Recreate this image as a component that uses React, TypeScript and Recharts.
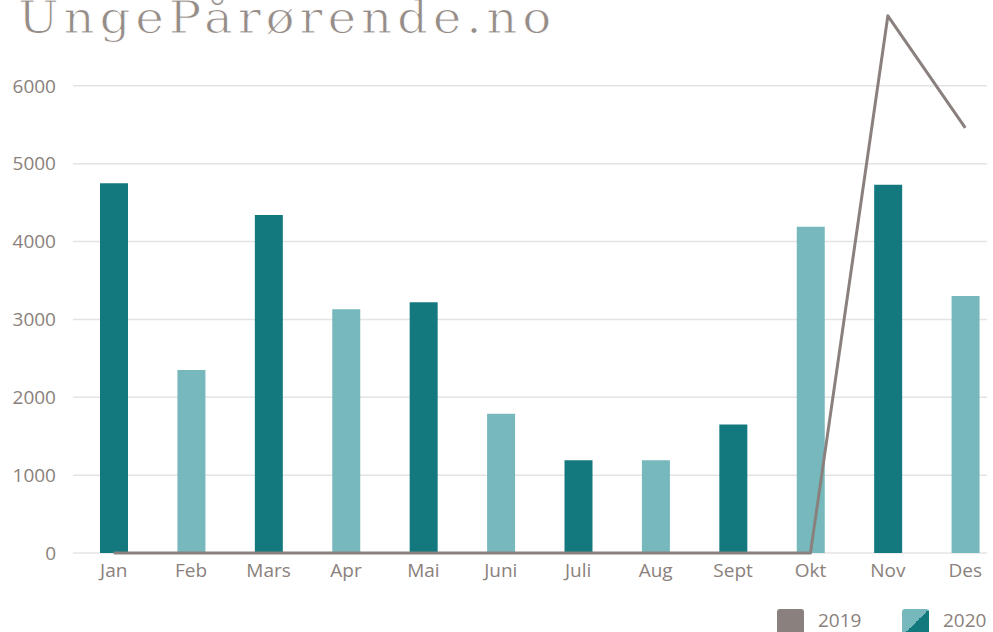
import React from "react";
import { ComposedChart, Bar, Line, XAxis, YAxis, CartesianGrid, Cell } from "recharts";

const months = ["Jan", "Feb", "Mars", "Apr", "Mai", "Juni", "Juli", "Aug", "Sept", "Okt", "Nov", "Des"];
const visits2020 = [4750, 2350, 4340, 3130, 3220, 1790, 1190, 1190, 1650, 4190, 4730, 3300];
const visits2019 = [0, 0, 0, 0, 0, 0, 0, 0, 0, 0, 6900, 5460];
const yTicks = [0, 1000, 2000, 3000, 4000, 5000, 6000];

const DARK = "#13797e";
const LIGHT = "#76b8bc";
const GREY = "#8a817e";
const TEXT = "#8a817c";

const data = months.map((m, i) => ({ month: m, y2020: visits2020[i], y2019: visits2019[i] }));

const TICK = { fill: TEXT, fontSize: 19, fontFamily: "'Open Sans', sans-serif" };
const LEGEND_TEXT: React.CSSProperties = {
  position: "absolute",
  top: 611,
  fontSize: 19,
  lineHeight: "19px",
  fontFamily: "'Open Sans', sans-serif",
  color: TEXT,
};

export default function App() {
  return (
    <div style={{ position: "fixed", left: 0, top: 0, width: 993, height: 632, overflow: "hidden", background: "#fff" }}>
      <svg width={993} height={60} style={{ position: "absolute", left: 0, top: 0 }}>
        <g transform="translate(18,0) scale(1.1,1)">
          <text
            x={0}
            y={33}
            textLength={485}
            lengthAdjust="spacing"
            fontFamily="'DejaVu Serif', serif"
            fontSize={44}
            fill="#968d88"
            stroke="#fff"
            strokeWidth={1}
          >
            UngePårørende.no
          </text>
        </g>
      </svg>

      <ComposedChart width={993} height={632} data={data} margin={{ top: 8, right: 6, bottom: 49, left: 0 }}>
        <CartesianGrid stroke="#e4e4e4" strokeWidth={1.5} vertical={false} horizontalValues={yTicks} />
        <XAxis
          dataKey="month"
          tick={TICK}
          axisLine={false}
          tickLine={false}
          tickMargin={5}
          padding={{ left: 2, right: -17 }}
          interval={0}
          height={30}
        />
        <YAxis
          domain={[0, 7000]}
          ticks={yTicks}
          tick={TICK}
          axisLine={false}
          tickLine={false}
          tickMargin={11}
          width={73}
        />
        <Bar dataKey="y2020" barSize={28} isAnimationActive={false}>
          {data.map((_, i) => (
            <Cell key={i} fill={i % 2 === 0 ? DARK : LIGHT} />
          ))}
        </Bar>
        <Line
          type="linear"
          dataKey="y2019"
          stroke={GREY}
          strokeWidth={3}
          strokeLinejoin="round"
          dot={false}
          isAnimationActive={false}
        />
      </ComposedChart>

      <div style={{ position: "absolute", left: 777, top: 609, width: 27, height: 27, borderRadius: 3, background: GREY }} />
      <div style={{ ...LEGEND_TEXT, left: 818 }}>2019</div>
      <div
        style={{
          position: "absolute",
          left: 902,
          top: 609,
          width: 27,
          height: 27,
          borderRadius: 3,
          background: `linear-gradient(to bottom right, ${LIGHT} 50%, ${DARK} 50%)`,
        }}
      />
      <div style={{ ...LEGEND_TEXT, left: 943 }}>2020</div>
    </div>
  );
}
